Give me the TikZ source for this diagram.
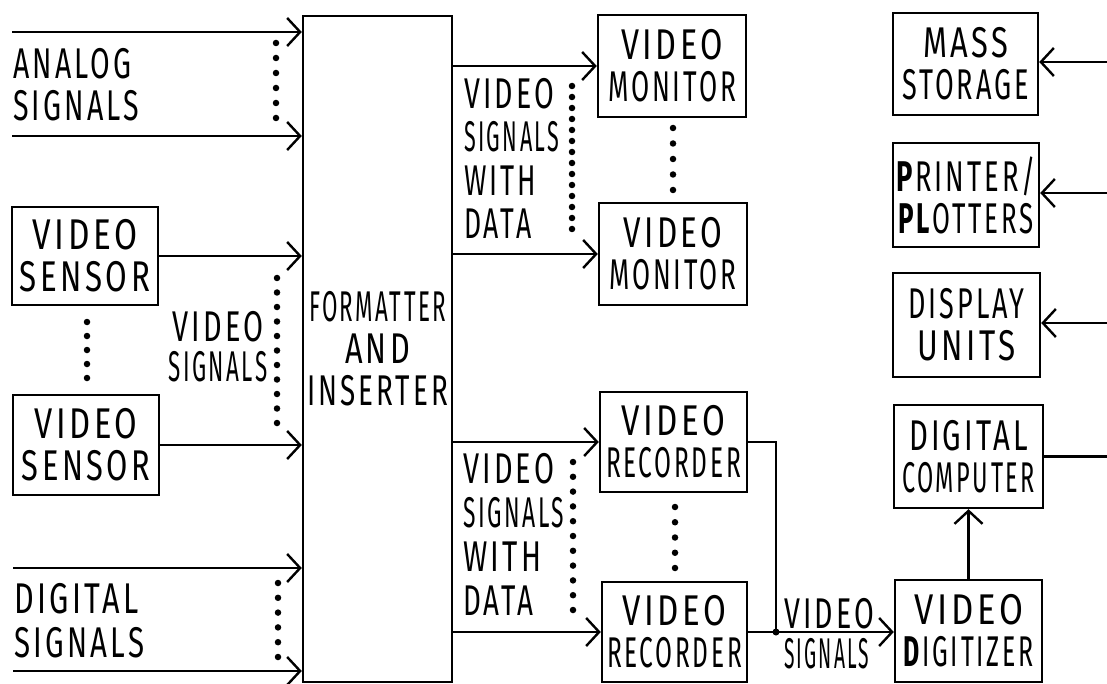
\documentclass[tikz,border=0pt]{standalone}
\usepackage{fontspec}
\setmainfont{Fira Sans}
\usepackage{graphicx}
\usetikzlibrary{arrows.meta}
\newcommand\sw[2]{\resizebox{#1pt}{\height}{#2}}
\newcommand\lettering{\fontsize{43}{42}\selectfont\addfontfeature{LetterSpace=11}}
\begin{document}
\begin{tikzpicture}[x=1pt,y=-1pt,line width=2.4pt,
  box/.style={draw,inner sep=0pt,align=center,font=\lettering},
  lbl/.style={inner sep=0pt,font=\lettering},
  arr/.style={-{Straight Barb[length=13pt,width=28pt]}},
  dotcol/.style={line width=6.5pt,line cap=round,dash pattern=on 0pt off #1pt}]
\fill[white] (0,0) rectangle (1107,684);
\useasboundingbox (0,0) rectangle (1107,684);

% boxes
\node[box,minimum width=149pt,minimum height=666pt] (form) at (377.5,349)
  {\sw{137}{FORMATTER}\\\sw{65}{AND}\\\sw{141}{INSERTER}};
\node[box,minimum width=146pt,minimum height=98pt] (sen1) at (85,256)
  {\sw{105}{VIDEO}\\\sw{130}{SENSOR}};
\node[box,minimum width=146pt,minimum height=100pt] (sen2) at (86,445)
  {\sw{103}{VIDEO}\\\sw{128}{SENSOR}};
\node[box,minimum width=148pt,minimum height=102pt] (mon1) at (672,66)
  {\sw{102}{VIDEO}\\\sw{128}{MONITOR}};
\node[box,minimum width=148pt,minimum height=102pt] (mon2) at (673,254)
  {\sw{99}{VIDEO}\\\sw{127}{MONITOR}};
\node[box,minimum width=147pt,minimum height=100pt] (rec1) at (673.5,442)
  {\sw{104}{VIDEO}\\\sw{135}{RECORDER}};
\node[box,minimum width=145pt,minimum height=100pt] (rec2) at (674.5,632)
  {\sw{104}{VIDEO}\\\sw{135}{RECORDER}};
\node[box,minimum width=145pt,minimum height=102pt] (mass) at (965.5,64)
  {\sw{85}{MASS}\\\sw{127}{STORAGE}};
\node[box,minimum width=146pt,minimum height=104pt] (print) at (966,195)
  {\sw{140}{\textbf{P}RINTER/}\\\sw{136}{\textbf{PL}OTTERS}};
\node[box,minimum width=147pt,minimum height=104pt] (disp) at (966.5,325)
  {\sw{116}{DISPLAY}\\\sw{98}{UNITS}};
\node[box,minimum width=149pt,minimum height=103pt] (comp) at (968.5,456.5)
  {\sw{119}{DIGITAL}\\\sw{133}{COMPUTER}};
\node[box,minimum width=147pt,minimum height=102pt] (digi) at (968.5,631)
  {\sw{109}{VIDEO}\\\sw{130}{\textbf{D}IGITIZER}};

% free labels
\node[lbl,anchor=north west,align=left] (lana) at (12,47)
  {\sw{118}{ANALOG}\\\sw{126}{SIGNALS}};
\node[lbl,anchor=north west,align=left,font={\lettering\fontsize{43}{44}\selectfont}] (ldig) at (13,582)
  {\sw{124}{DIGITAL}\\\sw{130}{SIGNALS}};
\node[lbl,anchor=north,align=center,font={\lettering\fontsize{43}{40}\selectfont}] (lvs) at (218,310)
  {\sw{91}{VIDEO}\\\sw{99}{SIGNALS}};
\node[lbl,anchor=north west,align=left,font={\lettering\fontsize{43}{43.5}\selectfont}] (lmon) at (463,77)
  {\sw{90}{VIDEO}\\\sw{95}{SIGNALS}\\\sw{72}{WITH}\\\sw{67}{DATA}};
\node[lbl,anchor=north west,align=left,font={\lettering\fontsize{43}{44}\selectfont}] (lrec) at (462,452)
  {\sw{91}{VIDEO}\\\sw{101}{SIGNALS}\\\sw{78}{WITH}\\\sw{70}{DATA}};
\node[lbl,anchor=north west,align=left,font={\lettering\fontsize{43}{40}\selectfont}] (ldv) at (783,597)
  {\sw{90}{VIDEO}\\\sw{85}{SIGNALS}};

% inputs to formatter
\coordinate (an1) at (12,32);
\coordinate (an2) at (12,136);
\coordinate (dg1) at (13,568);
\coordinate (dg2) at (13,671);
\draw[arr] (an1) -- (an1 -| form.west);
\draw[arr] (an2) -- (an2 -| form.west);
\draw[arr] (dg1) -- (dg1 -| form.west);
\draw[arr] (dg2) -- (dg2 -| form.west);
\draw[arr] (sen1.east) -- (sen1.east -| form.west);
\draw[arr] (sen2.east) -- (sen2.east -| form.west);

% formatter outputs
\draw[arr] (form.east |- mon1.west) -- (mon1.west);
\draw[arr] (form.east |- mon2.west) -- (mon2.west);
\draw[arr] (form.east |- rec1.west) -- (rec1.west);
\draw[arr] (form.east |- rec2.west) -- (rec2.west);

% recorders to digitizer
\coordinate (j) at (776,632);
\draw (rec1.east) -| (j);
\draw (rec2.east) -- (j);
\draw[arr] (j) -- (j -| digi.west);
\fill (j) circle (3.5pt);
\draw[arr] (digi.north) -- (comp.south);

% right side
\coordinate (rm) at (1107,62);
\coordinate (rp) at (1107,193);
\coordinate (rd) at (1107,323);
\coordinate (rc) at (1107,456.5);
\draw[arr] (rm) -- (rm -| mass.east);
\draw[arr] (rp) -- (rp -| print.east);
\draw[arr] (rd) -- (rd -| disp.east);
\draw (comp.east) -- (rc);

% dotted columns
\draw[dotcol=15] (276,43) -- (276,118.5);
\draw[dotcol=14] (87,322) -- (87,378.5);
\draw[dotcol=14.5] (277,278) -- (277,423.5);
\draw[dotcol=14.8] (278,583) -- (278,657.5);
\draw[dotcol=11] (572,86) -- (572,229.5);
\draw[dotcol=15.5] (673,128) -- (673,190.5);
\draw[dotcol=14.8] (573,462) -- (573,610.5);
\draw[dotcol=15.25] (675,507) -- (675,568.5);
\end{tikzpicture}
\end{document}
